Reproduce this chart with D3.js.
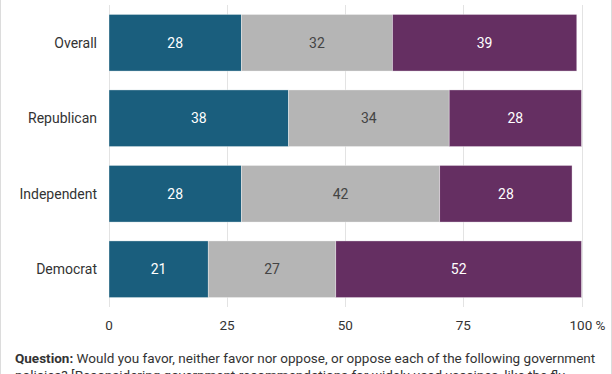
<!DOCTYPE html>
<html lang="en">
<head>
<meta charset="UTF-8">
<script src="https://cdn.jsdelivr.net/npm/d3@7"></script>
<style>
  html, body { margin: 0; padding: 0; background: #fff; }
  body { width: 612px; height: 374px; overflow: hidden; font-family: Roboto, sans-serif; }
</style>
</head>
<body>
<div id="chart"></div>
<script>
// chart data
var groups = ["Overall", "Republican", "Independent", "Democrat"];
var favor = [28, 38, 28, 21];
var neither = [32, 34, 42, 27];
var oppose = [39, 28, 28, 52];
var ticks = [0, 25, 50, 75, 100];

var colors = ["#1a5e7d", "#b5b5b5", "#652f62"];
var textColors = ["#fff", "#444", "#fff"];

var W = 612, H = 374;
var svg = d3.select("#chart").append("svg")
  .attr("width", W)
  .attr("height", H);

// thin card edges
svg.append("line").attr("x1", 0.5).attr("x2", 0.5).attr("y1", 0).attr("y2", H)
  .attr("stroke", "#dcdcdc");
svg.append("line").attr("x1", W - 0.5).attr("x2", W - 0.5).attr("y1", 0).attr("y2", H)
  .attr("stroke", "#dcdcdc");

var x = d3.scaleLinear().domain([0, 100]).range([109, 581.5]);
var y = d3.scaleBand().domain(groups).range([5, 307]).paddingInner(0.25).paddingOuter(0.125);

// gridlines
svg.append("g").selectAll("line")
  .data(ticks)
  .enter().append("line")
  .attr("x1", function(d) { return Math.round(x(d)) + 0.5; })
  .attr("x2", function(d) { return Math.round(x(d)) + 0.5; })
  .attr("y1", 5)
  .attr("y2", 307)
  .attr("stroke", "#e3e3e3");

// tick labels
svg.append("g").selectAll("text")
  .data(ticks)
  .enter().append("text")
  .attr("x", function(d) { return x(d); })
  .attr("y", 330)
  .attr("text-anchor", "middle")
  .attr("font-size", "13.5px")
  .attr("fill", "#333")
  .text(function(d) { return d == 100 ? "100 %" : d; })
  .attr("dx", function(d) { return d == 100 ? 6 : 0; });

// stacked rows
var rows = groups.map(function(g, i) {
  return { group: g, vals: [favor[i], neither[i], oppose[i]] };
});

rows.forEach(function(r) {
  var start = 0;
  var segs = r.vals.map(function(v, k) {
    var s = { k: k, v: v, x0: start, x1: start + v };
    start += v;
    return s;
  });
  var g = svg.append("g");
  g.selectAll("rect")
    .data(segs)
    .enter().append("rect")
    .attr("x", function(d) { return x(d.x0); })
    .attr("y", y(r.group))
    .attr("width", function(d) { return x(d.x1) - x(d.x0); })
    .attr("height", y.bandwidth())
    .attr("fill", function(d) { return colors[d.k]; })
    .attr("stroke", "rgba(255,255,255,0.6)")
    .attr("stroke-width", 0.6);
  g.selectAll("text")
    .data(segs)
    .enter().append("text")
    .attr("x", function(d) { return (x(d.x0) + x(d.x1)) / 2; })
    .attr("y", y(r.group) + y.bandwidth() / 2)
    .attr("dy", "0.35em")
    .attr("text-anchor", "middle")
    .attr("font-size", "14px")
    .attr("fill", function(d) { return textColors[d.k]; })
    .text(function(d) { return d.v; });
});

// category labels
svg.append("g").selectAll("text")
  .data(groups)
  .enter().append("text")
  .attr("x", 97)
  .attr("y", function(d) { return y(d) + y.bandwidth() / 2; })
  .attr("dy", "0.35em")
  .attr("text-anchor", "end")
  .attr("font-size", "14px")
  .attr("fill", "#333")
  .text(function(d) { return d; });

// question note
var note = svg.append("text")
  .attr("x", 15)
  .attr("y", 363)
  .attr("font-size", "13.5px")
  .attr("fill", "#333");
note.append("tspan").attr("font-weight", "bold").text("Question:");
note.append("tspan").text(" Would you favor, neither favor nor oppose, or oppose each of the following government");
svg.append("text")
  .attr("x", 15)
  .attr("y", 380)
  .attr("font-size", "13.5px")
  .attr("fill", "#333")
  .text("policies? [Reconsidering government recommendations for widely used vaccines, like the flu");
</script>
</body>
</html>
